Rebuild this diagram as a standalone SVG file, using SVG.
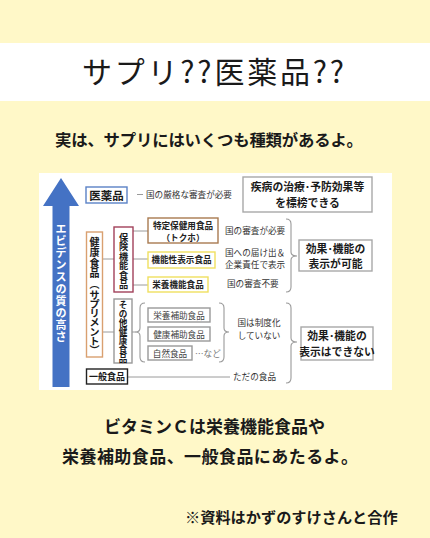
<svg xmlns="http://www.w3.org/2000/svg" width="430" height="538" viewBox="0 0 430 538">
<style>
text{font-family:"Noto Sans CJK JP","Noto Sans",sans-serif;fill:#1a1a1a}
.b{font-weight:700}
.s{font-size:8.6px;fill:#333}
.vc{text-anchor:middle;font-weight:700}
.box{fill:#fff;stroke-width:1.4}
.ln{fill:none;stroke:#9a9a9a;stroke-width:1}
.br{fill:none;stroke:#9a9a9a;stroke-width:1.1}
.big{font-size:10.8px;font-weight:700;text-anchor:middle}
.sub{font-size:8.6px;text-anchor:middle;fill:#444}
</style>
<rect width="430" height="538" fill="#FFF8C8"/>
<rect x="0" y="43" width="430" height="58" fill="#ffffff"/>
<text x="213" y="83" font-size="30" text-anchor="middle" font-weight="400" textLength="262">サプリ??医薬品??</text>
<text x="55" y="146" font-size="16.4" class="b" textLength="308">実は、サプリにはいくつも種類があるよ。</text>

<rect x="39" y="173" width="353" height="217" fill="#ffffff"/>

<g id="arrow">
<polygon points="61,178 79,206 69.5,206 69.5,387 52.5,387 52.5,206 43,206" fill="#4472C4"/>
<text class="vc" font-size="11" style="fill:#fff"><tspan x="61" y="233.2">エ</tspan><tspan x="61" y="245.2">ビ</tspan><tspan x="61" y="257.2">デ</tspan><tspan x="61" y="269.2">ン</tspan><tspan x="61" y="281.2">ス</tspan><tspan x="61" y="293.2">の</tspan><tspan x="61" y="305.2">質</tspan><tspan x="61" y="317.2">の</tspan><tspan x="61" y="329.2">高</tspan><tspan x="61" y="341.2">さ</tspan></text>
</g>

<g id="connectors">
<line class="ln" x1="137" y1="194.5" x2="143" y2="194.5"/>
<line class="ln" x1="102" y1="259" x2="114" y2="259"/>
<line class="ln" x1="133" y1="231" x2="148" y2="231"/>
<line class="ln" x1="133" y1="259" x2="148" y2="259"/>
<line class="ln" x1="133" y1="285" x2="148" y2="285"/>
<line class="ln" x1="102" y1="332" x2="114" y2="332"/>
<line class="ln" x1="132" y1="332" x2="136" y2="332"/>
<line class="ln" x1="128" y1="377" x2="230" y2="377"/>
<path class="br" d="M145,303 Q140,303 140,308 L140,328 Q140,332 135.5,332 Q140,332 140,336 L140,357 Q140,362 145,362"/>
<path class="br" d="M219,303 Q224,303 224,308 L224,328 Q224,332 229,332 Q224,332 224,336 L224,357 Q224,362 219,362"/>
<path class="br" d="M286,219 Q291,219 291,224 L291,252 Q291,256 297,256 Q291,256 291,260 L291,287 Q291,292 286,292"/>
<path class="br" d="M286,303 Q291,303 291,308 L291,338 Q291,342 297,342 Q291,342 291,346 L291,378 Q291,383 286,383"/>
</g>

<g id="iyakuhin">
<rect class="box" x="86" y="187" width="41" height="16" stroke="#5B82C6"/>
<text x="106.5" y="199.5" font-size="11.5" class="b" text-anchor="middle">医薬品</text>
<text x="146" y="197.5" class="s">国の厳格な審査が必要</text>
</g>

<g id="shippei">
<rect class="box" x="243" y="177" width="129" height="35" stroke="#a8a8a8" stroke-width="1"/>
<text x="307.5" y="190.5" class="big">疾病の治療･予防効果等</text>
<text x="307.5" y="206.5" class="big">を標榜できる</text>
</g>

<g id="kenko">
<rect class="box" x="86.5" y="232" width="16" height="125" stroke="#D9A070"/>
<text class="vc" font-size="10"><tspan x="94.5" y="245.8">健</tspan><tspan x="94.5" y="256.3">康</tspan><tspan x="94.5" y="266.8">食</tspan><tspan x="94.5" y="277.3">品</tspan><tspan x="94.5" y="287.8">︵</tspan><tspan x="94.5" y="298.8">サ</tspan><tspan x="94.5" y="307.8">プ</tspan><tspan x="94.5" y="316.8">リ</tspan><tspan x="94.5" y="326.3">メ</tspan><tspan x="94.5" y="335.8">ン</tspan><tspan x="94.5" y="344.8">ト</tspan><tspan x="94.5" y="354.3">︶</tspan></text>
</g>

<g id="hoken">
<rect class="box" x="114" y="227" width="19" height="65" stroke="#A2415A"/>
<text class="vc" font-size="9.2"><tspan x="123.5" y="240.5">保</tspan><tspan x="123.5" y="250">険</tspan><tspan x="123.5" y="259.5">機</tspan><tspan x="123.5" y="269">能</tspan><tspan x="123.5" y="278.5">食</tspan><tspan x="123.5" y="288">品</tspan></text>
</g>

<g id="tokuho">
<rect class="box" x="148" y="218" width="70" height="25" stroke="#A97A50"/>
<text x="183" y="229" class="sub b" style="fill:#222">特定保健用食品</text>
<text x="183" y="240.5" class="sub b" style="fill:#222">（トクホ）</text>
<text x="225" y="234" class="s">国の審査が必要</text>
</g>

<g id="kinousei">
<rect class="box" x="148" y="252" width="67" height="16" stroke="#F0E060"/>
<text x="181.5" y="263" class="sub b" style="fill:#222">機能性表示食品</text>
<text x="225" y="255.5" class="s">国への届け出＆</text>
<text x="225" y="267.5" class="s">企業責任で表示</text>
</g>

<g id="eiyoukinou">
<rect class="box" x="148" y="277" width="60" height="15" stroke="#F0E060"/>
<text x="178" y="288" class="sub b" style="fill:#222">栄養機能食品</text>
<text x="227" y="287" class="s">国の審査不要</text>
</g>

<g id="kanou">
<rect class="box" x="299" y="240" width="73" height="31" stroke="#a8a8a8" stroke-width="1"/>
<text x="335.5" y="252.5" class="big">効果･機能の</text>
<text x="335.5" y="268" class="big">表示が可能</text>
</g>

<g id="sonota">
<rect class="box" x="114" y="299" width="18" height="64" stroke="#999" stroke-width="1.1"/>
<text class="vc" font-size="8.6"><tspan x="123" y="308.3">そ</tspan><tspan x="123" y="317.3">の</tspan><tspan x="123" y="325.8">他</tspan><tspan x="123" y="335.3">健</tspan><tspan x="123" y="344.3">康</tspan><tspan x="123" y="353.3">食</tspan><tspan x="123" y="361.8">品</tspan></text>
</g>

<g id="eiyouhojo">
<rect class="box" x="148" y="308" width="62" height="14" stroke="#999" stroke-width="1"/>
<text x="179" y="318.5" class="sub">栄養補助食品</text>
</g>
<g id="kenkouhojo">
<rect class="box" x="148" y="327" width="62" height="14" stroke="#999" stroke-width="1"/>
<text x="179" y="337.5" class="sub">健康補助食品</text>
</g>
<g id="shizen">
<rect class="box" x="148" y="346" width="44" height="14" stroke="#999" stroke-width="1"/>
<text x="170" y="356.5" class="sub">自然食品</text>
<text x="195" y="356.5" font-size="8.6" style="fill:#777">…など</text>
</g>

<g id="seido">
<text x="259" y="326" class="sub" style="fill:#333">国は制度化</text>
<text x="259" y="338.5" class="sub" style="fill:#333">していない</text>
</g>

<g id="dekinai">
<rect class="box" x="301" y="327" width="72" height="33" stroke="#a8a8a8" stroke-width="1"/>
<text x="337" y="340" class="big">効果･機能の</text>
<text x="337" y="355.5" class="big">表示はできない</text>
</g>

<g id="ippan">
<rect class="box" x="86.5" y="369" width="41" height="15" stroke="#222" stroke-width="1.6"/>
<text x="107" y="380" font-size="9" class="b" text-anchor="middle">一般食品</text>
<text x="233" y="380" class="s">ただの食品</text>
</g>

<text x="104" y="433" font-size="17" class="b">ビタミンＣは栄養機能食品や</text>
<text x="62" y="463" font-size="17" class="b" textLength="296">栄養補助食品、一般食品にあたるよ。</text>
<text x="185" y="523" font-size="15.2" class="b">※資料はかずのすけさんと合作</text>
</svg>
